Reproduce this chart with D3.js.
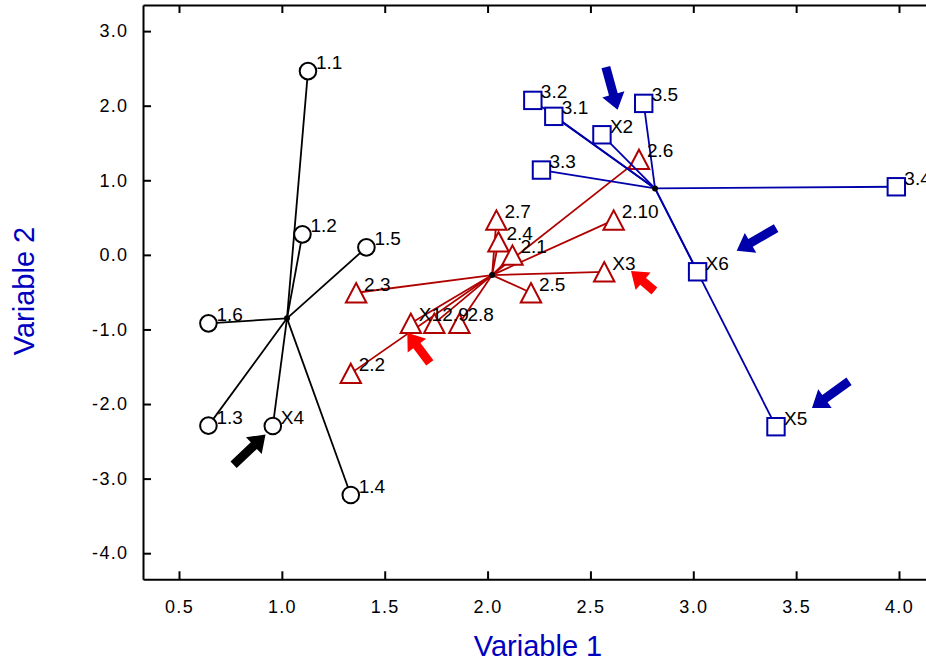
<!DOCTYPE html>
<html>
<head>
<meta charset="utf-8">
<script src="https://cdn.jsdelivr.net/npm/d3@7"></script>
<style>
  html, body { margin: 0; padding: 0; background: #fff; }
  svg { display: block; }
  text { font-family: "Liberation Sans", Arial, sans-serif; }
</style>
</head>
<body>
<svg id="chart" width="926" height="660"></svg>
<script>
// ---------------- data ----------------
const xTicks = [0.5, 1.0, 1.5, 2.0, 2.5, 3.0, 3.5, 4.0];
const yTicks = [3.0, 2.0, 1.0, 0.0, -1.0, -2.0, -3.0, -4.0];

// group 1 (circles)
const g1Center = [1.025, -0.851];
const g1Labels = ["1.1", "1.2", "1.5", "1.6", "1.3", "X4", "1.4"];
const g1X = [1.127, 1.100, 1.411, 0.643, 0.643, 0.956, 1.335];
const g1Y = [2.464, 0.275, 0.100, -0.918, -2.290, -2.295, -3.220];

// group 2 (triangles)
const g2Center = [2.022, -0.271];
const g2Labels = ["2.7", "2.4", "2.1", "2.10", "2.6", "X3", "2.5", "2.3", "X1", "2.9", "2.8", "2.2"];
const g2X = [2.043, 2.053, 2.121, 2.613, 2.736, 2.567, 2.211, 1.361, 1.627, 1.741, 1.863, 1.335];
const g2Y = [0.466, 0.176, -0.003, 0.466, 1.280, -0.227, -0.508, -0.508, -0.918, -0.918, -0.918, -1.589];

// group 3 (squares)
const g3Center = [2.814, 0.891];
const g3Labels = ["3.2", "3.1", "X2", "3.5", "3.3", "3.4", "X6", "X5"];
const g3X = [2.220, 2.322, 2.556, 2.759, 2.262, 3.987, 3.021, 3.402];
const g3Y = [2.071, 1.857, 1.610, 2.031, 1.137, 0.913, -0.227, -2.304];

// highlight arrows: tail -> tip (data coordinates)
const arrowGroup = [1, 2, 2, 3, 3, 3];
const arrowTailX = [0.7655, 1.719, 2.811, 2.575, 3.403, 3.757];
const arrowTailY = [-2.813, -1.448, -0.484, 2.517, 0.359, -1.694];
const arrowTipX  = [0.9205, 1.610, 2.697, 2.632, 3.211, 3.577];
const arrowTipY  = [-2.410, -1.044, -0.215, 1.945, 0.054, -2.052];

// ---------------- styles ----------------
const colG1 = "#000000", colG2 = "#b00000", colG3 = "#0000aa";
const arrowCol = {1: "#000000", 2: "#ff0000", 3: "#0000aa"};

const svg = d3.select("#chart");
const mLeft = 143, mTop = 5, mRight = 935, mBottom = 579.3;
const x = d3.scaleLinear().domain([0.325, 4.175]).range([mLeft, mRight]);
const y = d3.scaleLinear().domain([-4.35, 3.35]).range([mBottom, mTop]);

// ---------------- axes ----------------
const fmt = v => v.toFixed(1);
const axL = svg.append("g").attr("transform", `translate(${mLeft},0)`)
  .call(d3.axisLeft(y).tickValues(yTicks).tickFormat(fmt).tickSizeInner(-8).tickSizeOuter(0).tickPadding(16));
const axB = svg.append("g").attr("transform", `translate(0,${mBottom})`)
  .call(d3.axisBottom(x).tickValues(xTicks).tickFormat(fmt).tickSizeInner(-8).tickSizeOuter(0).tickPadding(21));
const axT = svg.append("g").attr("transform", `translate(0,${mTop})`)
  .call(d3.axisTop(x).tickValues(xTicks).tickFormat("").tickSizeInner(-8).tickSizeOuter(0));
[axL, axB, axT].forEach(a => {
  a.attr("font-size", null).attr("font-family", null);
  a.selectAll("path.domain").attr("stroke", "#000").attr("stroke-width", 2);
  a.selectAll(".tick line").attr("stroke", "#000").attr("stroke-width", 2);
  a.selectAll(".tick text").attr("fill", "#000")
    .attr("font-size", 18).attr("letter-spacing", 1.3)
    .attr("font-family", '"Liberation Sans", Arial, sans-serif');
});
axL.selectAll(".tick text").attr("dx", 1.3);

svg.append("text").attr("x", 538).attr("y", 656).attr("text-anchor", "middle")
  .attr("fill", "#0000c0").attr("font-size", 29).text("Variable 1");
svg.append("text").attr("transform", "translate(34,291) rotate(-90)").attr("text-anchor", "middle")
  .attr("fill", "#0000c0").attr("font-size", 29).text("Variable 2");

// ---------------- groups ----------------
function drawGroup(center, labels, xs, ys, color, shape) {
  const pts = labels.map((l, i) => ({label: l, x: xs[i], y: ys[i]}));
  const g = svg.append("g");
  g.selectAll("line").data(pts).enter().append("line")
    .attr("x1", x(center[0])).attr("y1", y(center[1]))
    .attr("x2", d => x(d.x)).attr("y2", d => y(d.y))
    .attr("stroke", color).attr("stroke-width", 1.8);
  const m = g.selectAll(".mk").data(pts).enter();
  if (shape === "circle") {
    m.append("circle").attr("cx", d => x(d.x)).attr("cy", d => y(d.y)).attr("r", 8.3)
      .attr("fill", "#fff").attr("stroke", color).attr("stroke-width", 2);
  } else if (shape === "square") {
    m.append("rect").attr("x", d => x(d.x) - 8.7).attr("y", d => y(d.y) - 8.7)
      .attr("width", 17.4).attr("height", 17.4)
      .attr("fill", "#fff").attr("stroke", color).attr("stroke-width", 2);
  } else {
    m.append("path").attr("d", d => {
      const cx = x(d.x), cy = y(d.y);
      return `M${cx},${cy - 9.7}L${cx + 10.2},${cy + 9.7}L${cx - 10.2},${cy + 9.7}Z`;
    }).attr("fill", "#fff").attr("stroke", color).attr("stroke-width", 2);
  }
  return pts;
}
const p1 = drawGroup(g1Center, g1Labels, g1X, g1Y, colG1, "circle");
const p2 = drawGroup(g2Center, g2Labels, g2X, g2Y, colG2, "triangle");
const p3 = drawGroup(g3Center, g3Labels, g3X, g3Y, colG3, "square");

// centroid dots
[g1Center, g2Center, g3Center].forEach(c => {
  svg.append("circle").attr("cx", x(c[0])).attr("cy", y(c[1])).attr("r", 3).attr("fill", "#000");
});

// labels
svg.append("g").selectAll("text").data(p1.concat(p2, p3)).enter().append("text")
  .attr("x", d => x(d.x) + 8).attr("y", d => y(d.y) - 2)
  .attr("fill", "#000").attr("font-size", 19).text(d => d.label);

// arrows
const arrows = arrowGroup.map((g, i) => ({g, x0: arrowTailX[i], y0: arrowTailY[i], x1: arrowTipX[i], y1: arrowTipY[i]}));
svg.append("g").selectAll("path").data(arrows).enter().append("path")
  .attr("d", d => {
    const ax = x(d.x0), ay = y(d.y0), bx = x(d.x1), by = y(d.y1);
    const L = Math.hypot(bx - ax, by - ay);
    const ux = (bx - ax) / L, uy = (by - ay) / L, nx = -uy, ny = ux;
    const sw = 4.5, hw = 11.5, hl = 16;
    const hx = bx - ux * hl, hy = by - uy * hl;
    const P = [
      [ax + nx * sw, ay + ny * sw], [hx + nx * sw, hy + ny * sw], [hx + nx * hw, hy + ny * hw],
      [bx, by], [hx - nx * hw, hy - ny * hw], [hx - nx * sw, hy - ny * sw], [ax - nx * sw, ay - ny * sw]
    ];
    return "M" + P.map(p => p[0].toFixed(1) + "," + p[1].toFixed(1)).join("L") + "Z";
  })
  .attr("fill", d => arrowCol[d.g]);
</script>
</body>
</html>
